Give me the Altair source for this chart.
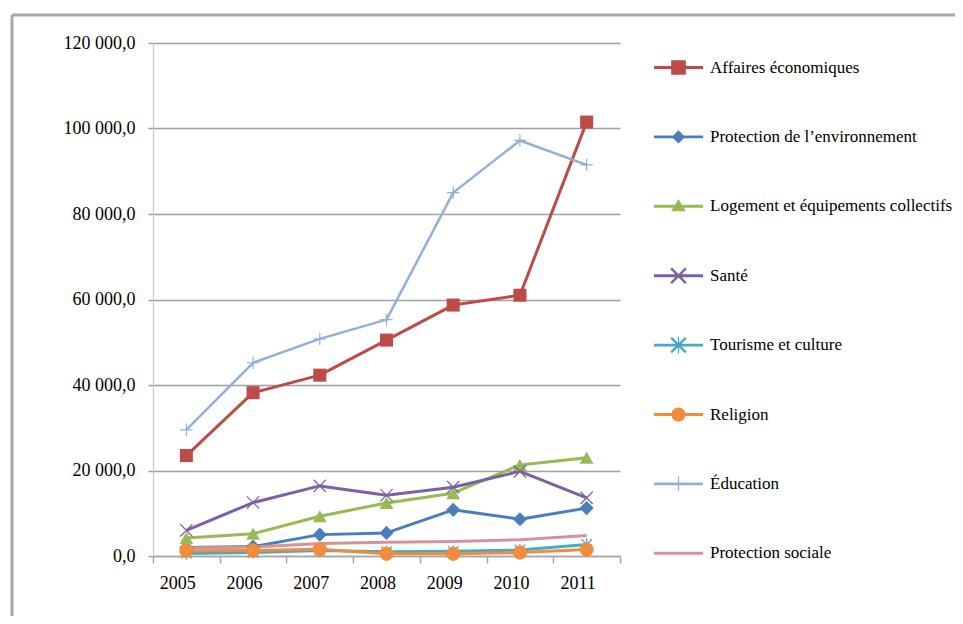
import altair as alt
import pandas as pd

# ---- data ----
years = [2005, 2006, 2007, 2008, 2009, 2010, 2011]
series = [
    "Affaires économiques",
    "Protection de l’environnement",
    "Logement et équipements collectifs",
    "Santé",
    "Tourisme et culture",
    "Religion",
    "Éducation",
    "Protection sociale",
]
affaires = [23500, 38200, 42300, 50500, 58700, 61000, 101500]
environnement = [2000, 2200, 5000, 5400, 10800, 8600, 11200]
logement = [4200, 5200, 9300, 12400, 14700, 21300, 23000]
sante = [6000, 12500, 16400, 14200, 16100, 19800, 13600]
tourisme = [600, 800, 1300, 1000, 1100, 1400, 2700]
religion = [1200, 1300, 1600, 500, 500, 800, 1500]
education = [29500, 45200, 50800, 55300, 85000, 97200, 91500]
sociale = [1900, 2100, 2900, 3200, 3400, 3800, 4800]
y_ticks = [0, 20000, 40000, 60000, 80000, 100000, 120000]

values_by_series = [affaires, environnement, logement, sante, tourisme,
                    religion, education, sociale]

# ---- styles ----
colors = ["#BE4B48", "#4A7EBB", "#98B954", "#7D60A0", "#46AAC5",
          "#F08C3C", "#93AFD8", "#D4929A"]
line_widths = [3, 3, 3, 3, 3, 3, 2.5, 3]

rows = []
for name, vals in zip(series, values_by_series):
    for yr, v in zip(years, vals):
        rows.append({"Série": name, "Année": str(yr), "Valeur": v})
df = pd.DataFrame(rows)

FONT = "Liberation Serif"

x_enc = alt.X(
    "Année:O",
    bandPosition=0.5,
    scale=alt.Scale(type="band", paddingInner=0, paddingOuter=0),
    axis=alt.Axis(
        title=None, grid=False, labelAngle=0, tickBand="extent",
        domainColor="#a6a6a6", domainWidth=1.5, tickColor="#a6a6a6",
        tickWidth=1.5, tickSize=7, labelFont=FONT, labelFontSize=18,
        labelColor="black", labelPadding=11, labelOffset=-9,
    ),
)
y_enc = alt.Y(
    "Valeur:Q",
    scale=alt.Scale(domain=[0, 120000], nice=False),
    axis=alt.Axis(
        title=None, values=y_ticks, grid=True, gridColor="#a0a0a0",
        gridWidth=1.5, domainColor="#c8c8c8", domainWidth=1.2,
        tickColor="#a0a0a0", tickSize=5, tickWidth=1.5,
        labelFont=FONT, labelFontSize=18, labelColor="black",
        labelPadding=13,
        labelExpr="replace(replace(format(datum.value, ',.1f'), ',', ' '), '.', ',')",
    ),
)
color_scale = alt.Scale(domain=series, range=colors)

layers = []

# legend symbols: line + marker, drawn as filled paths in a [-1,1] box
LINE = "M-1,-0.06H1V0.06H-1Z"
legend_paths = [
    LINE + "M-0.3,-0.3H0.3V0.3H-0.3Z",
    LINE + "M0,-0.27L0.27,0L0,0.27L-0.27,0Z",
    LINE + "M0,-0.3L0.3,0.2L-0.3,0.2Z",
    LINE + "M-0.265,-0.335L0.335,0.265L0.265,0.335L-0.335,-0.265Z"
           "M-0.335,0.265L0.265,-0.335L0.335,-0.265L-0.265,0.335Z",
    LINE + "M-0.265,-0.335L0.335,0.265L0.265,0.335L-0.335,-0.265Z"
           "M-0.335,0.265L0.265,-0.335L0.335,-0.265L-0.265,0.335Z"
           "M-0.025,-0.34H0.025V0.34H-0.025Z",
    LINE + "M-0.29,0A0.29,0.29 0 1,1 0.29,0A0.29,0.29 0 1,1 -0.29,0Z",
    LINE + "M-0.025,-0.3H0.025V0.3H-0.025Z",
    LINE,
]
legend = alt.Legend(
    title=None, orient="none", legendX=501, legendY=0, padding=0,
    direction="vertical", rowPadding=36.4, symbolSize=2401,
    symbolOpacity=1, symbolStrokeWidth=0, symbolStrokeColor="transparent",
    labelFont=FONT, labelFontSize=17, labelColor="black", labelOffset=7,
    labelLimit=500,
)
# legend carrier layer first so that its legend settings win
layers.append(
    alt.Chart(df).transform_filter(alt.datum["Année"] == "2005")
    .mark_point(filled=True, opacity=0)
    .encode(
        x=x_enc, y=y_enc,
        color=alt.Color("Série:N", scale=color_scale, legend=legend,
                        sort=series),
        shape=alt.Shape("Série:N",
                        scale=alt.Scale(domain=series, range=legend_paths),
                        legend=legend, sort=series),
    )
)

# frame of the chart (decoration)
frame = pd.DataFrame({"k": [0]})
layers.append(
    alt.Chart(frame).mark_rule(color="#a8a8a8", strokeWidth=3).encode(
        x=alt.value(-141), y=alt.value(-28), y2=alt.value(700))
)
layers.append(
    alt.Chart(frame).mark_rule(color="#a8a8a8", strokeWidth=3).encode(
        x=alt.value(-141), x2=alt.value(900), y=alt.value(-28))
)

# lines
for name, w in zip(series, line_widths):
    layers.append(
        alt.Chart(df).transform_filter(alt.datum["Série"] == name)
        .mark_line(strokeWidth=w, strokeJoin="round")
        .encode(x=x_enc, y=y_enc,
                color=alt.Color("Série:N", scale=color_scale))
    )

# markers
X_PATH = "M-1,-1L1,1M-1,1L1,-1"
AST_PATH = "M-1,-1L1,1M-1,1L1,-1M0,-1.2L0,1.2"
PLUS_PATH = "M-1,0L1,0M0,-1L0,1"
marker_specs = {
    "Affaires économiques": dict(shape="square", size=170, filled=True),
    "Protection de l’environnement": dict(shape="diamond", size=200, filled=True),
    "Logement et équipements collectifs": dict(shape="triangle-up", size=190, filled=True),
    "Santé": dict(shape=X_PATH, size=150, filled=False, strokeWidth=1.2),
    "Tourisme et culture": dict(shape=AST_PATH, size=110, filled=False, strokeWidth=1.2),
    "Religion": dict(shape="circle", size=200, filled=True),
    "Éducation": dict(shape=PLUS_PATH, size=150, filled=False, strokeWidth=1.2),
}
for name in series:
    if name not in marker_specs:
        continue
    spec = marker_specs[name]
    layers.append(
        alt.Chart(df).transform_filter(alt.datum["Série"] == name)
        .mark_point(opacity=1, **spec)
        .encode(x=x_enc, y=y_enc,
                color=alt.Color("Série:N", scale=color_scale))
    )

chart = (
    alt.layer(*layers)
    .properties(
        width=467, height=513,
        autosize=alt.AutoSizeParams(type="none"),
        padding={"left": 145, "top": 35, "right": 335, "bottom": 60},
        background="white",
    )
    .configure_view(strokeWidth=0)
)

chart.save("out.html", embed_options={"renderer": "svg", "actions": False})
